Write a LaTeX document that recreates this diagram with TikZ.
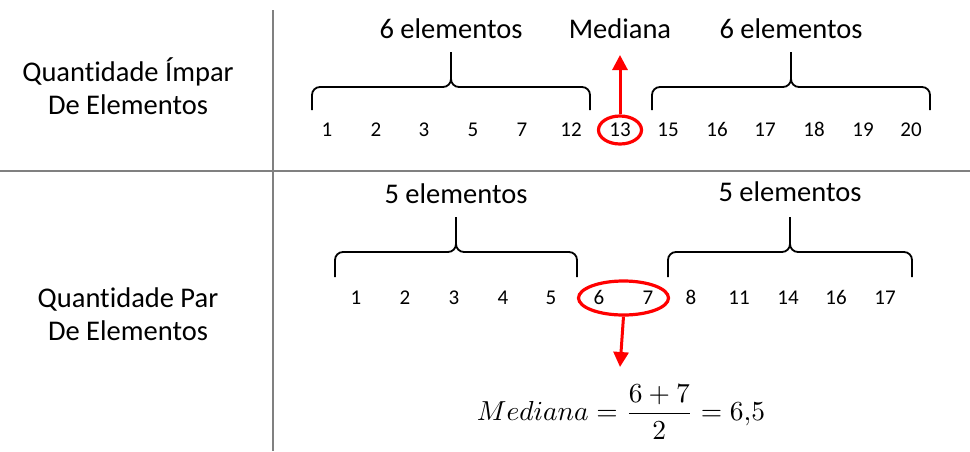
\documentclass[tikz,border=0pt]{standalone}
\usepackage{fontspec}
\setmainfont{Carlito}[Ligatures=NoCommon]
\usetikzlibrary{arrows.meta,shapes.geometric,calc}
\definecolor{linegray}{RGB}{128,128,128}
\definecolor{medred}{RGB}{255,0,0}
\newcommand{\chaveta}[5]{\draw[chave] (#1,#3) -- (#1,#4) -- ({(#1+#2)/2},#4) -- ({(#1+#2)/2},#5)
  (#2,#3) -- (#2,#4) -- ({(#1+#2)/2},#4) -- ({(#1+#2)/2},#5);}
\begin{document}
\begin{tikzpicture}[x=1pt,y=-1pt,
 every node/.style={inner sep=0pt},
 rotulo/.style={font=\fontsize{28.5}{33}\selectfont,align=center},
 num/.style={font=\fontsize{21}{24}\selectfont,text height=13pt,text depth=0pt},
 divisa/.style={draw=linegray,line width=2.6pt},
 chave/.style={draw=black,line width=1.8pt,rounded corners=8pt},
 marca/.style={draw=medred,ellipse,line width=3.2pt},
 seta/.style={draw=medred,line width=3pt,-{Triangle[length=15pt,width=15pt]}}
]
\useasboundingbox (0,0) rectangle (970,451);
\draw[divisa] (0,171) -- (970,171);
\draw[divisa] (273,10) -- (273,451);
\node[rotulo] (impar) at (128,86) {Quantidade Ímpar\\De Elementos};
\node[rotulo] (par) at (128,314) {Quantidade Par\\De Elementos};
\foreach \v/\x [count=\i] in {1/327,2/376,3/424,5/473,7/522,12/571,13/620,15/668,16/717,17/765,18/814,19/863,20/911}
  \node[num] (a\i) at (\x,130) {\v};
\foreach \v/\x [count=\i] in {1/356,2/405,3/454,4/503,5/551,6/599,7/648,8/691,11/739,14/788,16/836,17/885}
  \node[num] (b\i) at (\x,298) {\v};
\chaveta{312}{590}{110}{87}{52}
\chaveta{652}{930}{110}{87}{52}
\chaveta{335}{577}{277}{252}{217}
\chaveta{668}{912}{277}{252}{217}
\node[rotulo,anchor=base] (seisa) at (451,38) {6 elementos};
\node[rotulo,anchor=base] (lbmed) at (620,38) {Mediana};
\node[rotulo,anchor=base] (seisb) at (791,38) {6 elementos};
\node[rotulo,anchor=base] (cincoa) at (456,203) {5 elementos};
\node[rotulo,anchor=base] (cincob) at (790,201) {5 elementos};
\node[marca,minimum width=43pt,minimum height=28pt] (m1) at (a7) {};
\node[marca,minimum width=90pt,minimum height=34pt] (m2) at ($(b6)!0.5!(b7)$) {};
\coordinate (p1) at (620,55);
\coordinate (p2) at (620,367);
\draw[seta] (m1.north) -- (p1);
\draw[seta] (m2.south) -- (p2);
\node[scale=2.75] (form) at (621,412) {$\displaystyle Mediana=\frac{6+7}{2}=6{,}5$};
\end{tikzpicture}
\end{document}
